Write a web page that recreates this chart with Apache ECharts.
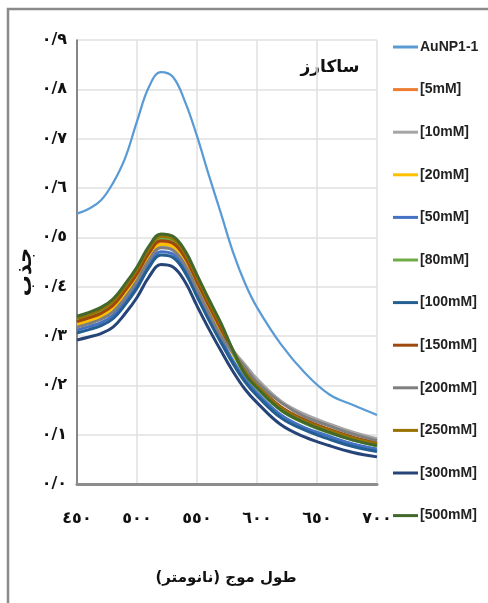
<!DOCTYPE html>
<html>
<head>
<meta charset="utf-8">
<script src="https://cdn.jsdelivr.net/npm/echarts@6/dist/echarts.min.js"></script>
<style>
  html, body { margin: 0; padding: 0; background: #fff; }
  #chart { width: 488px; height: 603px; }
</style>
</head>
<body>
<div id="chart"></div>
<script>
// طول موج (nm)
const wavelengths = [450, 460, 470, 480, 490, 500, 510, 520, 530, 540, 550, 560, 570, 580, 590, 600, 620, 640, 660, 680, 700];

const seriesNames = ["AuNP1-1", "[5mM]", "[10mM]", "[20mM]", "[50mM]", "[80mM]", "[100mM]", "[150mM]", "[200mM]", "[250mM]", "[300mM]", "[500mM]"];
const seriesColors = ["#5B9BD5", "#ED7D31", "#A5A5A5", "#FFC000", "#4472C4", "#70AD47", "#255E91", "#9E480E", "#7F7F7F", "#997300", "#264478", "#43682B"];

const auNP = [0.548, 0.558, 0.575, 0.610, 0.660, 0.735, 0.805, 0.835, 0.825, 0.775, 0.705, 0.625, 0.548, 0.470, 0.407, 0.358, 0.283, 0.225, 0.182, 0.160, 0.140];
const c5 = [0.327, 0.334, 0.343, 0.359, 0.388, 0.423, 0.465, 0.490, 0.485, 0.455, 0.406, 0.357, 0.310, 0.266, 0.228, 0.200, 0.155, 0.128, 0.110, 0.094, 0.082];
const c10 = [0.321, 0.328, 0.337, 0.352, 0.381, 0.415, 0.457, 0.482, 0.477, 0.448, 0.399, 0.350, 0.304, 0.270, 0.242, 0.213, 0.168, 0.141, 0.122, 0.105, 0.092];
const c20 = [0.324, 0.331, 0.340, 0.356, 0.385, 0.419, 0.461, 0.486, 0.481, 0.452, 0.403, 0.354, 0.307, 0.263, 0.225, 0.197, 0.152, 0.125, 0.107, 0.091, 0.079];
const c50 = [0.312, 0.319, 0.327, 0.342, 0.370, 0.404, 0.446, 0.471, 0.466, 0.437, 0.388, 0.339, 0.294, 0.250, 0.213, 0.185, 0.140, 0.114, 0.097, 0.081, 0.071];
const c80 = [0.333, 0.341, 0.350, 0.366, 0.396, 0.431, 0.473, 0.498, 0.493, 0.464, 0.415, 0.365, 0.318, 0.266, 0.222, 0.194, 0.149, 0.123, 0.104, 0.089, 0.077];
const c100 = [0.306, 0.313, 0.321, 0.335, 0.363, 0.397, 0.439, 0.464, 0.459, 0.429, 0.380, 0.332, 0.287, 0.244, 0.207, 0.179, 0.134, 0.109, 0.091, 0.076, 0.066];
const c150 = [0.329, 0.337, 0.346, 0.362, 0.392, 0.426, 0.468, 0.493, 0.488, 0.459, 0.410, 0.361, 0.314, 0.269, 0.230, 0.201, 0.156, 0.130, 0.111, 0.095, 0.083];
const c200 = [0.318, 0.325, 0.334, 0.349, 0.377, 0.412, 0.454, 0.479, 0.474, 0.444, 0.395, 0.346, 0.300, 0.266, 0.237, 0.206, 0.165, 0.136, 0.118, 0.101, 0.088];
const c250 = [0.336, 0.344, 0.354, 0.370, 0.400, 0.435, 0.477, 0.502, 0.497, 0.468, 0.419, 0.369, 0.322, 0.271, 0.227, 0.199, 0.154, 0.127, 0.109, 0.093, 0.081];
const c300 = [0.292, 0.298, 0.305, 0.318, 0.345, 0.378, 0.420, 0.445, 0.440, 0.410, 0.361, 0.314, 0.270, 0.228, 0.192, 0.165, 0.120, 0.095, 0.078, 0.064, 0.055];
const c500 = [0.340, 0.348, 0.358, 0.375, 0.405, 0.440, 0.482, 0.507, 0.502, 0.473, 0.424, 0.374, 0.326, 0.271, 0.223, 0.195, 0.150, 0.124, 0.105, 0.089, 0.078];

const seriesValues = [auNP, c5, c10, c20, c50, c80, c100, c150, c200, c250, c300, c500];

const yTickLabels = ["٠/٠", "٠/١", "٠/٢", "٠/٣", "٠/٤", "٠/٥", "٠/٦", "٠/٧", "٠/٨", "٠/٩"];
const xTickValues = [450, 500, 550, 600, 650, 700];
const xTickLabels = ["٤٥٠", "٥٠٠", "٥٥٠", "٦٠٠", "٦٥٠", "٧٠٠"];

const chart = echarts.init(document.getElementById("chart"));

const arabicFont = "DejaVu Sans";

const option = {
  animation: false,
  backgroundColor: "#fff",
  grid: { left: 77, top: 40, width: 300, height: 444 },
  legend: {
    orient: "vertical",
    left: 388,
    top: 34,
    itemWidth: 25,
    itemHeight: 3,
    itemGap: 26.6,
    icon: "rect",
    data: seriesNames,
    textStyle: {
      fontFamily: "Liberation Sans Narrow, Liberation Sans, sans-serif",
      fontWeight: "bold",
      fontSize: 14,
      lineHeight: 16,
      color: "#222",
      padding: [0, 0, 0, -3]
    }
  },
  xAxis: {
    type: "value",
    min: 450,
    max: 700,
    interval: 50,
    axisLine: { show: true, lineStyle: { color: "#8c8c8c", width: 3 } },
    axisTick: { show: false },
    splitLine: { show: true, lineStyle: { color: "#e0e0e0", width: 1.5 } },
    axisLabel: {
      margin: 27,
      fontFamily: arabicFont,
      fontWeight: "bold",
      fontSize: 16,
      color: "#111",
      formatter: (v) => xTickLabels[xTickValues.indexOf(v)]
    }
  },
  yAxis: {
    type: "value",
    min: 0,
    max: 0.9,
    interval: 0.1,
    axisLine: { show: true, lineStyle: { color: "#666", width: 1.5 } },
    axisTick: { show: false },
    splitLine: { show: true, lineStyle: { color: "#e0e0e0", width: 1.5 } },
    axisLabel: {
      margin: 10,
      fontFamily: arabicFont,
      fontWeight: "bold",
      fontSize: 16,
      color: "#111",
      formatter: (v) => yTickLabels[Math.round(v * 10)]
    }
  },
  series: seriesNames.map((name, i) => ({
    name: name,
    type: "line",
    smooth: 0.4,
    showSymbol: false,
    data: wavelengths.map((w, j) => [w, seriesValues[i][j]]),
    lineStyle: { color: seriesColors[i], width: i === 0 ? 2.25 : 3 },
    itemStyle: { color: seriesColors[i] }
  })),
  graphic: [
    {
      type: "rect",
      shape: { x: 8, y: 9, width: 520, height: 640 },
      style: { fill: "none", stroke: "#8a8a8a", lineWidth: 2.5 },
      silent: true
    },
    {
      type: "text",
      x: 330,
      y: 68,
      style: {
        text: "ساکارز",
        font: "bold 17px DejaVu Sans",
        fill: "#111",
        align: "center",
        verticalAlign: "middle"
      }
    },
    {
      type: "text",
      x: 26,
      y: 272,
      rotation: Math.PI / 2,
      style: {
        text: "جذب",
        font: "bold 21px DejaVu Sans",
        fill: "#111",
        align: "center",
        verticalAlign: "middle"
      }
    },
    {
      type: "text",
      x: 226,
      y: 578,
      style: {
        text: "طول موج (نانومتر)",
        font: "bold 15px DejaVu Sans",
        fill: "#111",
        align: "center",
        verticalAlign: "middle"
      }
    }
  ]
};

chart.setOption(option);
</script>
</body>
</html>
